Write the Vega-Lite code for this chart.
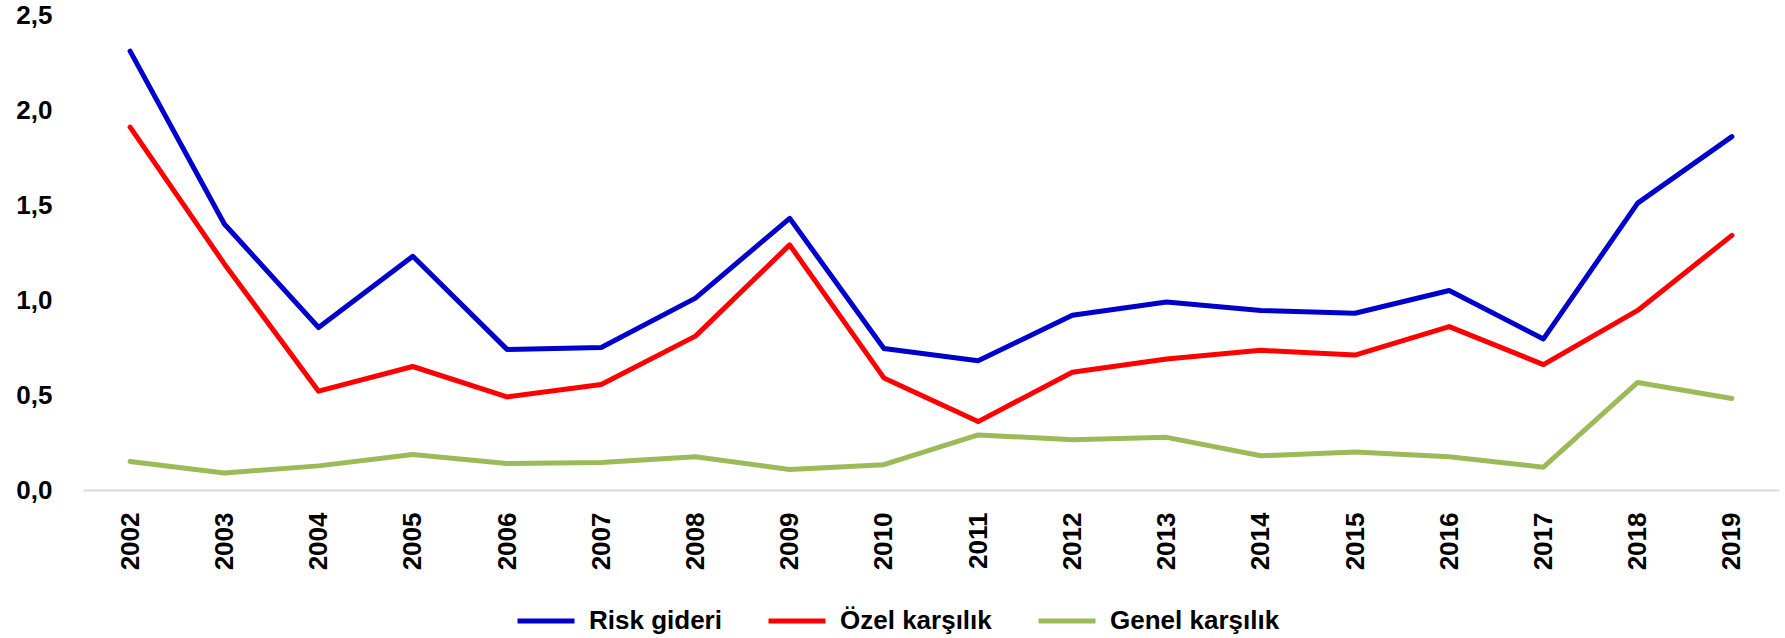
{
  "$schema": "https://vega.github.io/schema/vega-lite/v6.json",
  "width": 1696,
  "height": 475,
  "autosize": {"type": "none"},
  "padding": {"left": 83, "top": 15, "right": 6, "bottom": 148},
  "background": "white",
  "config": {"view": {"stroke": null}, "font": "Liberation Sans"},
  "data": {"values": [
    {"yil": "2002", "seri": "Risk gideri", "deger": 2.31},
    {"yil": "2003", "seri": "Risk gideri", "deger": 1.40},
    {"yil": "2004", "seri": "Risk gideri", "deger": 0.855},
    {"yil": "2005", "seri": "Risk gideri", "deger": 1.23},
    {"yil": "2006", "seri": "Risk gideri", "deger": 0.74},
    {"yil": "2007", "seri": "Risk gideri", "deger": 0.75},
    {"yil": "2008", "seri": "Risk gideri", "deger": 1.01},
    {"yil": "2009", "seri": "Risk gideri", "deger": 1.43},
    {"yil": "2010", "seri": "Risk gideri", "deger": 0.745},
    {"yil": "2011", "seri": "Risk gideri", "deger": 0.68},
    {"yil": "2012", "seri": "Risk gideri", "deger": 0.92},
    {"yil": "2013", "seri": "Risk gideri", "deger": 0.99},
    {"yil": "2014", "seri": "Risk gideri", "deger": 0.945},
    {"yil": "2015", "seri": "Risk gideri", "deger": 0.93},
    {"yil": "2016", "seri": "Risk gideri", "deger": 1.05},
    {"yil": "2017", "seri": "Risk gideri", "deger": 0.795},
    {"yil": "2018", "seri": "Risk gideri", "deger": 1.51},
    {"yil": "2019", "seri": "Risk gideri", "deger": 1.86},
    {"yil": "2002", "seri": "Özel karşılık", "deger": 1.91},
    {"yil": "2003", "seri": "Özel karşılık", "deger": 1.19},
    {"yil": "2004", "seri": "Özel karşılık", "deger": 0.52},
    {"yil": "2005", "seri": "Özel karşılık", "deger": 0.65},
    {"yil": "2006", "seri": "Özel karşılık", "deger": 0.49},
    {"yil": "2007", "seri": "Özel karşılık", "deger": 0.555},
    {"yil": "2008", "seri": "Özel karşılık", "deger": 0.81},
    {"yil": "2009", "seri": "Özel karşılık", "deger": 1.29},
    {"yil": "2010", "seri": "Özel karşılık", "deger": 0.59},
    {"yil": "2011", "seri": "Özel karşılık", "deger": 0.36},
    {"yil": "2012", "seri": "Özel karşılık", "deger": 0.62},
    {"yil": "2013", "seri": "Özel karşılık", "deger": 0.69},
    {"yil": "2014", "seri": "Özel karşılık", "deger": 0.735},
    {"yil": "2015", "seri": "Özel karşılık", "deger": 0.71},
    {"yil": "2016", "seri": "Özel karşılık", "deger": 0.86},
    {"yil": "2017", "seri": "Özel karşılık", "deger": 0.66},
    {"yil": "2018", "seri": "Özel karşılık", "deger": 0.945},
    {"yil": "2019", "seri": "Özel karşılık", "deger": 1.34},
    {"yil": "2002", "seri": "Genel karşılık", "deger": 0.15},
    {"yil": "2003", "seri": "Genel karşılık", "deger": 0.09},
    {"yil": "2004", "seri": "Genel karşılık", "deger": 0.127},
    {"yil": "2005", "seri": "Genel karşılık", "deger": 0.187},
    {"yil": "2006", "seri": "Genel karşılık", "deger": 0.139},
    {"yil": "2007", "seri": "Genel karşılık", "deger": 0.145},
    {"yil": "2008", "seri": "Genel karşılık", "deger": 0.175},
    {"yil": "2009", "seri": "Genel karşılık", "deger": 0.108},
    {"yil": "2010", "seri": "Genel karşılık", "deger": 0.133},
    {"yil": "2011", "seri": "Genel karşılık", "deger": 0.29},
    {"yil": "2012", "seri": "Genel karşılık", "deger": 0.265},
    {"yil": "2013", "seri": "Genel karşılık", "deger": 0.277},
    {"yil": "2014", "seri": "Genel karşılık", "deger": 0.18},
    {"yil": "2015", "seri": "Genel karşılık", "deger": 0.2},
    {"yil": "2016", "seri": "Genel karşılık", "deger": 0.175},
    {"yil": "2017", "seri": "Genel karşılık", "deger": 0.12},
    {"yil": "2018", "seri": "Genel karşılık", "deger": 0.566},
    {"yil": "2019", "seri": "Genel karşılık", "deger": 0.482}
  ]},
  "mark": {"type": "line", "strokeWidth": 5, "strokeCap": "round", "strokeJoin": "round"},
  "encoding": {
    "x": {
      "field": "yil", "type": "ordinal", "title": null,
      "scale": {"type": "point", "padding": 0.5},
      "axis": {
        "labelAngle": -90, "labelFontSize": 26, "labelFontWeight": "bold", "labelColor": "#000000",
        "labelPadding": 22, "ticks": false, "domainColor": "#d9d9d9", "domainWidth": 2, "grid": false
      }
    },
    "y": {
      "field": "deger", "type": "quantitative", "title": null,
      "scale": {"domain": [0, 2.5], "nice": false},
      "axis": {
        "values": [0, 0.5, 1, 1.5, 2, 2.5],
        "labelExpr": "replace(format(datum.value, '.1f'), '.', ',')",
        "labelFontSize": 26, "labelFontWeight": "bold", "labelColor": "#000000",
        "labelPadding": 31, "ticks": false, "domain": false, "grid": false
      }
    },
    "color": {
      "field": "seri", "type": "nominal", "title": null,
      "sort": ["Risk gideri", "Özel karşılık", "Genel karşılık"],
      "scale": {"domain": ["Risk gideri", "Özel karşılık", "Genel karşılık"], "range": ["#0000CC", "#FF0000", "#9BBB59"]},
      "legend": {
        "orient": "none", "direction": "horizontal", "legendX": 432, "legendY": 575,
        "symbolType": "stroke", "symbolSize": 3249, "symbolStrokeWidth": 5,
        "labelFontSize": 26, "labelFontWeight": "bold", "labelColor": "#000000",
        "labelOffset": 12, "columnPadding": 36, "labelLimit": 400
      }
    }
  }
}
